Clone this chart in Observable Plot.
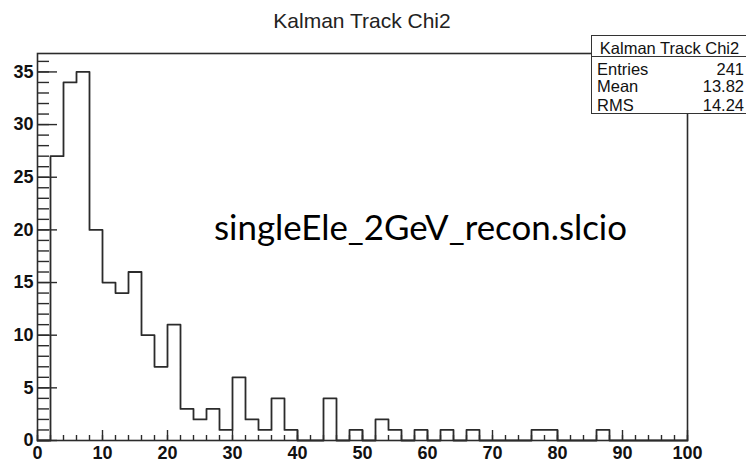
<!DOCTYPE html>
<html>
<head>
<meta charset="utf-8">
<script src="https://cdn.jsdelivr.net/npm/d3@7"></script>
<script src="https://cdn.jsdelivr.net/npm/@observablehq/plot@0.6"></script>
<style>
  html, body { margin: 0; padding: 0; background: #fff; }
  #wrap { position: relative; width: 746px; height: 462px; overflow: hidden;
          font-family: "Liberation Sans", Arial, Helvetica, sans-serif; }
  #wrap svg { position: absolute; left: 0; top: 0; }
  #title { position: absolute; left: 37px; top: 9px; width: 650px; text-align: center;
           font-size: 21px; color: #222; line-height: 24px; }
  #stats { position: absolute; left: 591px; top: 35px; width: 157px; height: 79px;
           box-sizing: border-box; border: 1px solid #333; background: #fff;
           font-size: 16.5px; color: #111; }
  #stats .head { position: absolute; left: 0; top: 0; width: 100%; height: 20px;
                 border-bottom: 1px solid #333; text-align: center; line-height: 25px; }
  #stats .row { position: absolute; left: 5px; right: 3px; height: 18px; line-height: 18px; }
  #stats .row span.v { float: right; }
</style>
</head>
<body>
<div id="wrap">
  <div id="title"></div>
  <div id="stats"></div>
</div>
<script>
// Histogram of the Kalman track chi2: 50 bins of width 2 over [0, 100)
const binStart = [0, 2, 4, 6, 8, 10, 12, 14, 16, 18,
                  20, 22, 24, 26, 28, 30, 32, 34, 36, 38,
                  40, 42, 44, 46, 48, 50, 52, 54, 56, 58,
                  60, 62, 64, 66, 68, 70, 72, 74, 76, 78,
                  80, 82, 84, 86, 88, 90, 92, 94, 96, 98];
const binEnd = 100;
const counts = [0, 27, 34, 35, 20, 15, 14, 16, 10, 7,
                11, 3, 2, 3, 1, 6, 2, 1, 4, 1,
                0, 0, 4, 0, 1, 0, 2, 1, 0, 1,
                0, 1, 0, 1, 0, 0, 0, 0, 1, 1,
                0, 0, 0, 1, 0, 0, 0, 0, 0, 0];

// Axis ticks
const xMajorTicks = [0, 10, 20, 30, 40, 50, 60, 70, 80, 90, 100];
const xMinorTicks = [0, 2, 4, 6, 8, 10, 12, 14, 16, 18, 20, 22, 24, 26, 28, 30, 32, 34, 36, 38,
                     40, 42, 44, 46, 48, 50, 52, 54, 56, 58, 60, 62, 64, 66, 68, 70, 72, 74, 76, 78,
                     80, 82, 84, 86, 88, 90, 92, 94, 96, 98, 100];
const yMajorTicks = [0, 5, 10, 15, 20, 25, 30, 35];
const yMinorTicks = [0, 1, 2, 3, 4, 5, 6, 7, 8, 9, 10, 11, 12, 13, 14, 15, 16, 17, 18,
                     19, 20, 21, 22, 23, 24, 25, 26, 27, 28, 29, 30, 31, 32, 33, 34, 35, 36];

// Texts
const histTitle = "Kalman Track Chi2";
const statsLabels = ["Entries", "Mean", "RMS"];
const statsValues = ["241", "13.82", "14.24"];
const sampleLabel = "singleEle_2GeV_recon.slcio";

const W = 746, H = 462;
const mL = 37, mR = 59, mT = 53, mB = 22;
const plotW = W - mL - mR, plotH = H - mT - mB;
const ink = "#2b2b2b";

// outline of the histogram as a step line over the bin edges
const steps = binStart.map((x, i) => ({x, y: counts[i]}))
  .concat([{x: binEnd, y: counts[counts.length - 1]}]);

const chart = Plot.plot({
  width: W, height: H,
  marginLeft: mL, marginRight: mR, marginTop: mT, marginBottom: mB,
  x: {domain: [0, 100]},
  y: {domain: [0, 35 * 1.05]},
  style: {fontFamily: "Liberation Sans, Arial, sans-serif", color: ink, background: "white"},
  marks: [
    Plot.frame({stroke: ink, strokeWidth: 1.6}),
    // inward ticks on the left edge
    Plot.tickY(yMinorTicks, {y: d => d, insetRight: plotW - 12, stroke: ink, strokeWidth: 1.4}),
    Plot.tickY(yMajorTicks, {y: d => d, insetRight: plotW - 20, stroke: ink, strokeWidth: 1.4}),
    // inward ticks on the bottom edge
    Plot.tickX(xMinorTicks, {x: d => d, insetTop: plotH - 5, stroke: ink, strokeWidth: 1.4}),
    Plot.tickX(xMajorTicks, {x: d => d, insetTop: plotH - 10, stroke: ink, strokeWidth: 1.4}),
    Plot.axisY(yMajorTicks, {tickSize: 0, tickPadding: 4, fontSize: 18, fontWeight: "bold",
                             label: null, fill: "#111"}),
    Plot.axisX(xMajorTicks, {tickSize: 0, tickPadding: 6, fontSize: 18, fontWeight: "bold",
                             label: null, fill: "#111"}),
    Plot.line(steps, {x: "x", y: "y", curve: "step-after", stroke: ink, strokeWidth: 1.8}),
    Plot.text([sampleLabel], {text: d => d, frameAnchor: "middle", lineAnchor: "bottom",
                              dx: 58, dy: -7, fontSize: 34, fontFamily: "Lato, Carlito, sans-serif",
                              fill: "#000", className: "sample-label"})
  ]
});

const wrap = document.getElementById("wrap");
wrap.insertBefore(chart, wrap.firstChild);

// stretch the file label to its printed width
d3.select(chart).selectAll(".sample-label text")
  .attr("textLength", 413).attr("lengthAdjust", "spacingAndGlyphs");

document.getElementById("title").textContent = histTitle;

const stats = d3.select("#stats");
stats.append("div").attr("class", "head").text(histTitle);
const rowTops = [24, 41, 60];
statsLabels.forEach((lab, i) => {
  const r = stats.append("div").attr("class", "row").style("top", rowTops[i] + "px");
  r.append("span").text(lab);
  r.append("span").attr("class", "v").text(statsValues[i]);
});
</script>
</body>
</html>
